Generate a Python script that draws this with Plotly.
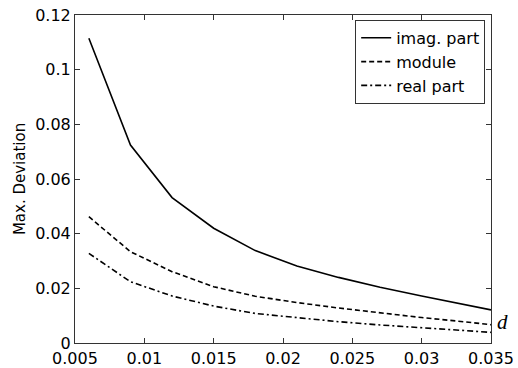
import plotly.graph_objects as go

d_values = [0.006, 0.009, 0.012, 0.015, 0.018, 0.021, 0.024, 0.027, 0.030, 0.033, 0.035]
imag_part = [0.1115, 0.0724, 0.0532, 0.0420, 0.0338, 0.0282, 0.0240, 0.0204, 0.0172, 0.0141, 0.0121]
module = [0.0462, 0.0334, 0.0261, 0.0206, 0.0171, 0.0148, 0.0128, 0.0110, 0.0093, 0.0078, 0.0067]
real_part = [0.0328, 0.0224, 0.0172, 0.0135, 0.0108, 0.0092, 0.0078, 0.0066, 0.0055, 0.0045, 0.0039]

font = "DejaVu Sans"
fig = go.Figure()
fig.add_trace(go.Scatter(x=d_values, y=imag_part, mode="lines", name="imag. part",
                         line=dict(color="black", width=1.6)))
fig.add_trace(go.Scatter(x=d_values, y=module, mode="lines", name="module",
                         line=dict(color="black", width=1.6, dash="5px,3px")))
fig.add_trace(go.Scatter(x=d_values, y=real_part, mode="lines", name="real part",
                         line=dict(color="black", width=1.6, dash="6px,3px,2px,3px")))

axis_common = dict(showgrid=False, zeroline=False, showline=True, linecolor="#333",
                   linewidth=1, mirror="ticks", ticks="inside", ticklen=5, tickcolor="#333",
                   automargin=False,
                   tickfont=dict(family=font, size=16, color="black"))
fig.update_xaxes(range=[0.005, 0.035], dtick=0.005, tick0=0.005, ticklabelstandoff=1, **axis_common)
fig.update_yaxes(range=[0, 0.12], dtick=0.02, tick0=0, **axis_common)

# y-axis title placed like the reference
fig.add_annotation(text="Max. Deviation", xref="paper", yref="paper", x=-0.132, y=0.5,
                   xanchor="center", yanchor="middle", textangle=-90, showarrow=False,
                   font=dict(family=font, size=15, color="black"))

fig.add_annotation(text="<i>d</i>", xref="paper", yref="paper", x=1.01, y=0.02,
                   xanchor="left", yanchor="bottom", showarrow=False,
                   font=dict(family="Liberation Serif", size=21, color="black"))

fig.update_layout(
    width=518, height=368,
    margin=dict(l=75, r=27, t=15, b=25, autoexpand=False),
    paper_bgcolor="white", plot_bgcolor="white",
    font=dict(family=font, size=16, color="black"),
    legend=dict(x=0.986, y=0.985, xanchor="right", yanchor="top",
                bordercolor="#333", borderwidth=1, bgcolor="white",
                font=dict(family=font, size=16), tracegroupgap=0, itemwidth=30),
    showlegend=True,
)

fig.write_html("out.html", config={"displayModeBar": False},
               post_script="document.body.style.margin='0px';document.body.style.overflow='hidden';")
